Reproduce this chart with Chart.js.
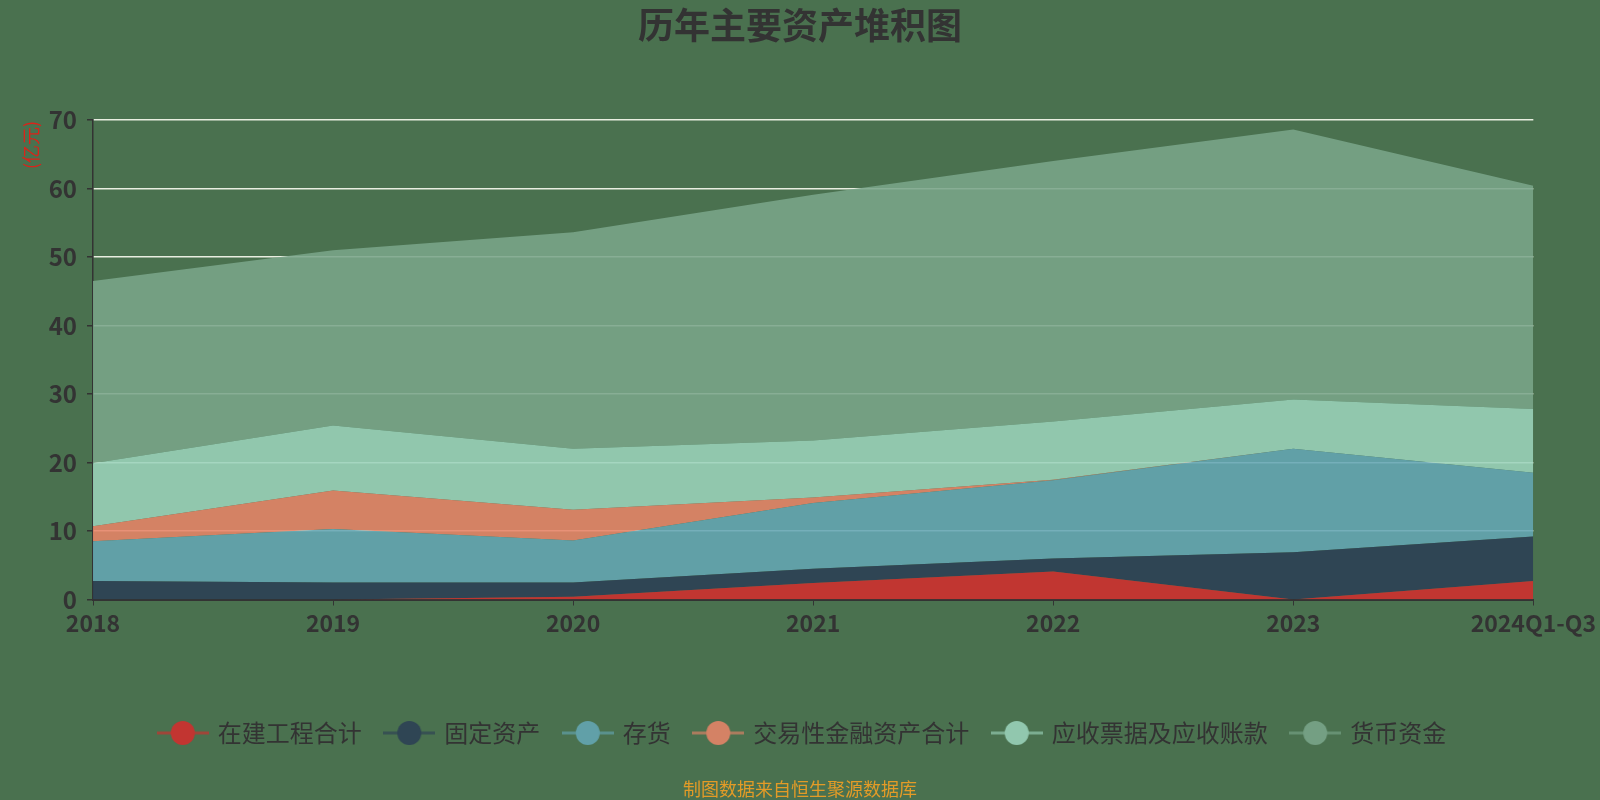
<!DOCTYPE html>
<html>
<head>
<meta charset="utf-8">
<script src="https://cdn.jsdelivr.net/npm/chart.js@4"></script>
<style>
  html, body { margin: 0; padding: 0; background: #4a714f; }
  #wrap { width: 1600px; height: 800px; }
</style>
</head>
<body>
<div id="wrap"><canvas id="assetChart" width="1600" height="800"></canvas></div>
<script>
const years = ['2018', '2019', '2020', '2021', '2022', '2023', '2024Q1-Q3']

// 亿元
const zaijian = [0, 0, 0.4, 2.4, 4.1, 0, 2.7]
const guding = [2.7, 2.5, 2.1, 2.1, 1.9, 6.9, 6.5]
const cunhuo = [5.8, 7.8, 6.1, 9.6, 11.4, 15.1, 9.3]
const jiaoyi = [2.2, 5.6, 4.5, 0.8, 0.1, 0, 0]
const yingshou = [9.2, 9.5, 8.9, 8.3, 8.5, 7.2, 9.3]
const huobi = [26.6, 25.6, 31.6, 35.9, 38.0, 39.4, 32.6]

const yTicks = [0, 10, 20, 30, 40, 50, 60, 70]

const fontFamily = "'Noto Sans CJK SC', 'Noto Sans', sans-serif"
const textColor = '#333'

const legendMarker = (color) => {
  const c = document.createElement('canvas')
  c.width = 52
  c.height = 26
  const ctx = c.getContext('2d')
  ctx.strokeStyle = color
  ctx.globalAlpha = 0.7
  ctx.lineWidth = 3
  ctx.beginPath()
  ctx.moveTo(0, 13)
  ctx.lineTo(52, 13)
  ctx.stroke()
  ctx.globalAlpha = 1
  ctx.fillStyle = color
  ctx.beginPath()
  ctx.arc(26, 13, 12, 0, Math.PI * 2)
  ctx.fill()
  return c
}

const series = [
  { label: '在建工程合计', data: zaijian, fill: 'rgba(210, 45, 45, 0.88)', solid: '#c23531' },
  { label: '固定资产', data: guding, fill: 'rgba(43, 63, 85, 0.88)', solid: '#2f4554' },
  { label: '存货', data: cunhuo, fill: 'rgba(100, 166, 180, 0.88)', solid: '#61a0a8' },
  { label: '交易性金融资产合计', data: jiaoyi, fill: 'rgba(231, 132, 104, 0.88)', solid: '#d48265' },
  { label: '应收票据及应收账款', data: yingshou, fill: 'rgba(155, 211, 187, 0.88)', solid: '#91c7ae' },
  { label: '货币资金', data: huobi, fill: 'rgba(122, 165, 138, 0.88)', solid: '#749f83' },
]

// legend is centred on the page, not on the padded box
const legendShift = {
  id: 'legendShift',
  afterUpdate(chart) {
    if (chart.legend) {
      chart.legend.left += 35
      chart.legend.right += 35
    }
  },
}

const decorations = {
  id: 'decorations',
  afterDraw(chart) {
    const { ctx } = chart
    ctx.save()
    ctx.fillStyle = textColor
    ctx.textAlign = 'center'
    ctx.textBaseline = 'middle'
    ctx.font = `bold 36px ${fontFamily}`
    ctx.fillText('历年主要资产堆积图', 800, 25)

    ctx.fillStyle = '#e39b27'
    ctx.font = `18px ${fontFamily}`
    ctx.fillText('制图数据来自恒生聚源数据库', 800, 789)

    ctx.translate(31, 145)
    ctx.rotate(-Math.PI / 2)
    ctx.fillStyle = '#dc2219'
    ctx.font = `18px ${fontFamily}`
    ctx.fillText('(亿元)', 0, 0)
    ctx.restore()
  },
}

document.addEventListener('DOMContentLoaded', () => {
  const canvas = document.getElementById('assetChart')
  const context = canvas.getContext('2d')

  new Chart(context, {
    type: 'line',
    data: {
      labels: years,
      datasets: series.map((s, i) => ({
        label: s.label,
        data: s.data,
        backgroundColor: s.fill,
        borderColor: s.solid,
        borderWidth: 0,
        pointRadius: 0,
        pointHoverRadius: 0,
        pointStyle: legendMarker(s.solid),
        tension: 0,
        fill: i === 0 ? 'origin' : '-1',
      })),
    },
    options: {
      responsive: false,
      animation: false,
      devicePixelRatio: 1,
      layout: {
        padding: { top: 120, right: 64, bottom: 45, left: 0 },
      },
      plugins: {
        legend: {
          position: 'bottom',
          labels: {
            usePointStyle: true,
            pointStyleWidth: 46,
            padding: 24.5,
            color: textColor,
            font: { family: fontFamily, size: 24 },
          },
        },
        tooltip: { enabled: false },
      },
      scales: {
        x: {
          grid: {
            drawOnChartArea: false,
            drawTicks: true,
            tickLength: 6,
            tickColor: textColor,
          },
          border: { color: textColor, width: 2 },
          ticks: {
            color: textColor,
            padding: 4,
            maxRotation: 0,
            autoSkip: false,
            font: { family: fontFamily, size: 23, weight: 'bold' },
          },
          afterFit(scale) {
            scale.height = 97
          },
        },
        y: {
          stacked: true,
          min: 0,
          max: 70,
          afterBuildTicks(scale) {
            scale.ticks = yTicks.map((v) => ({ value: v }))
          },
          grid: {
            color: '#e8eee0',
            lineWidth: 1.5,
            tickLength: 6,
            tickColor: textColor,
          },
          border: { color: textColor, width: 1.5 },
          ticks: {
            color: textColor,
            padding: 10,
            font: { family: fontFamily, size: 24, weight: 'bold' },
          },
          afterFit(scale) {
            scale.width = 93
          },
        },
      },
    },
    plugins: [legendShift, decorations],
  })
})
</script>
</body>
</html>
